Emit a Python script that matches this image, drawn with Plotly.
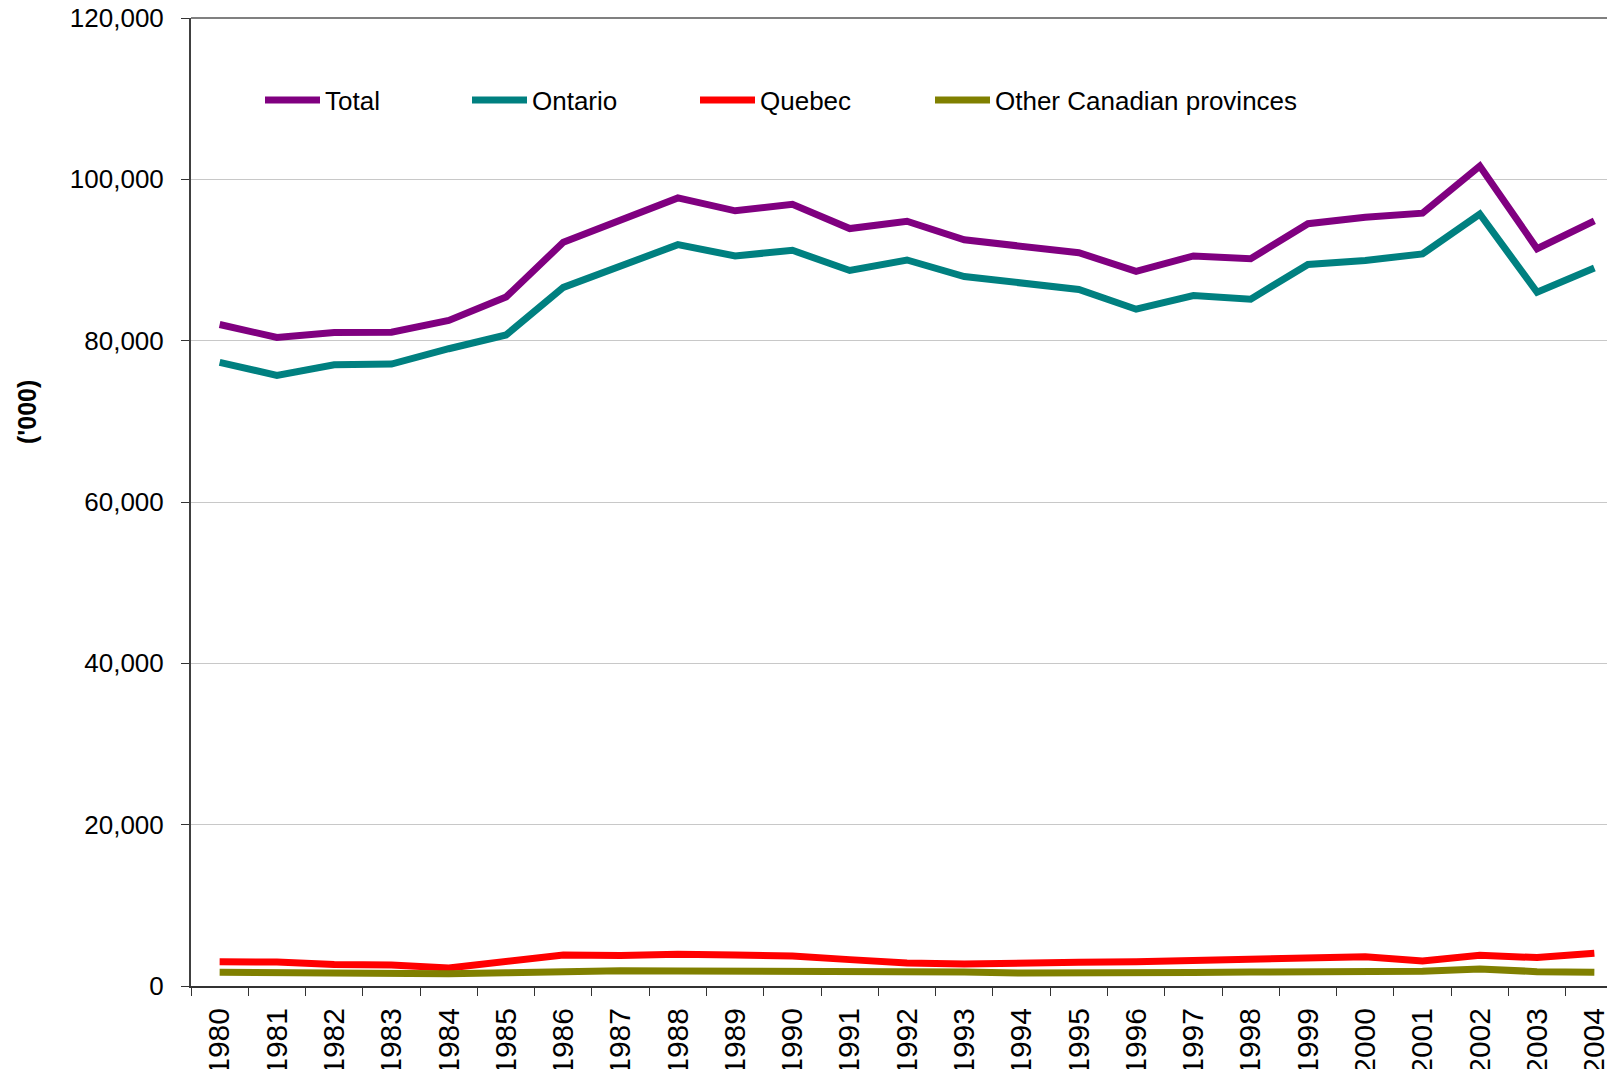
import plotly.graph_objects as go

years = [str(y) for y in range(1980, 2005)]
total = [82000, 80400, 81000, 81050, 82500, 85400, 92200, 95000, 97700, 96100, 96900, 93900,
         94800, 92500, 91700, 90900, 88600, 90500, 90150, 94500, 95300, 95800, 101650, 91400, 94850]
ontario = [77300, 75700, 77000, 77100, 79000, 80700, 86600, 89300, 91900, 90500, 91200, 88700,
           90000, 87950, 87100, 86350, 83900, 85600, 85150, 89450, 89950, 90750, 95700, 86000, 89000]
quebec = [3000, 2980, 2650, 2600, 2230, 3100, 3850, 3780, 3930, 3850, 3730, 3270,
          2850, 2730, 2930, 2930, 3020, 3190, 3310, 3330, 3640, 3100, 3810, 3520, 4060]
other = [1700, 1660, 1540, 1520, 1520, 1640, 1820, 1900, 1870, 1870, 1900, 1900,
         1820, 1740, 1610, 1570, 1570, 1680, 1740, 1740, 1680, 1820, 2110, 1780, 1700]

series = [("Total", total, "#800080"), ("Ontario", ontario, "#008080"),
          ("Quebec", quebec, "#FF0000"), ("Other Canadian provinces", other, "#808000")]

# page offset introduced by the default body margin of the html page
OFF = 8
W, H = 1615, 1069
PLOT_L, PLOT_T, PLOT_B = 191, 18, 986      # target plot edges in page pixels
L, T = PLOT_L - OFF, PLOT_T - OFF
B = H + OFF - PLOT_B
R = 0
pw, ph = W - L - R, H - T - B
FONT = "Liberation Sans, Arial, sans-serif"

def px2x(px):
    return (px - PLOT_L) / pw

def px2y(py):
    return 1 - (py - PLOT_T) / ph

fig = go.Figure()
legend_names = ["legend", "legend2", "legend3", "legend4"]
legend_px = [260, 467, 695, 930]
for (name, vals, col), lg in zip(series, legend_names):
    fig.add_trace(go.Scatter(x=years, y=vals, name=name, mode="lines",
                             line=dict(color=col, width=7), legend=lg))

layout_legends = {}
for lg, xp in zip(legend_names, legend_px):
    layout_legends[lg] = dict(x=px2x(xp), y=px2y(100), xanchor="left", yanchor="middle",
                              xref="paper", yref="paper", orientation="h",
                              bgcolor="rgba(0,0,0,0)", borderwidth=0, itemwidth=55,
                              font=dict(family=FONT, size=26, color="black"))

fig.update_layout(
    template="none",
    width=W, height=H,
    margin=dict(l=L, r=R, t=T, b=B, pad=0, autoexpand=False),
    paper_bgcolor="white", plot_bgcolor="white",
    showlegend=True,
    font=dict(family=FONT, size=26, color="black"),
    xaxis=dict(type="category", range=[-0.5, 24.5], showgrid=False, automargin=False,
               showline=True, linecolor="#333333", linewidth=2,
               ticks="outside", ticklen=8, tickcolor="#333333", tickwidth=1,
               tickson="boundaries", tickangle=-90, ticklabelstandoff=8,
               ticklabeloverflow="allow",
               tickfont=dict(family=FONT, size=30, color="black")),
    yaxis=dict(range=[0, 120000], dtick=20000, tickformat=",", automargin=False,
               showgrid=True, gridcolor="#C8C8C8", gridwidth=1,
               zeroline=False,
               showline=True, linecolor="#404040", linewidth=2,
               ticks="outside", ticklen=8, tickcolor="#333333", tickwidth=1,
               ticklabelstandoff=12, ticklabeloverflow="allow",
               tickfont=dict(family=FONT, size=26, color="black")),
    shapes=[dict(type="line", xref="paper", yref="paper", x0=0, x1=1, y0=1, y1=1,
                 line=dict(color="#808080", width=2))],
    annotations=[dict(text="<b>('000)</b>", x=px2x(27), y=px2y(412), xref="paper", yref="paper",
                      textangle=-90, showarrow=False, xanchor="center", yanchor="middle",
                      font=dict(family=FONT, size=25, color="black"))],
    **layout_legends,
)

fig.write_html("out.html")
